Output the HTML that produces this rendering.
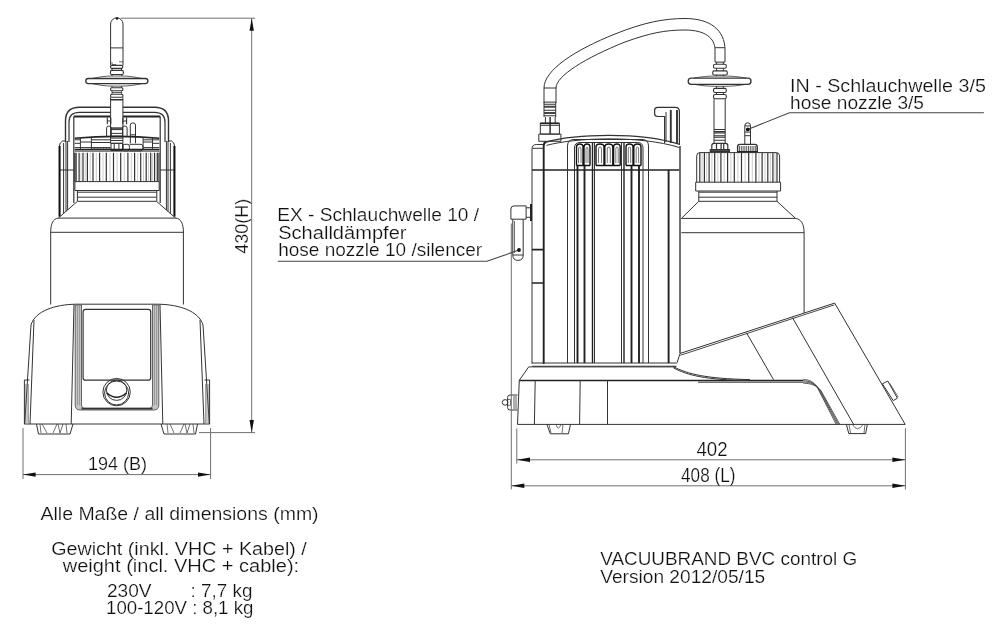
<!DOCTYPE html>
<html><head><meta charset="utf-8"><style>
html,body{margin:0;padding:0;background:#fff;}
svg{display:block;will-change:transform;}
text{font-family:"Liberation Sans",sans-serif;fill:#111;}
</style></head><body>
<svg width="1000" height="631" viewBox="0 0 1000 631">
<rect width="1000" height="631" fill="#fff"/>

<!-- ================= LEFT VIEW ================= -->
<g id="lv" fill="none" stroke="#333" stroke-width="1" stroke-linejoin="round">
  <!-- nozzle -->
  <path d="M110.6,65.4 V24 A6.2,6.2 0 0 1 123,24 V65.4"/>
  <path d="M110.6,47.9H123"/>
  <path d="M112,62 V64.5 H116 M119,61.8 H123" stroke-width="0.7"/>
  <rect x="110.6" y="65.4" width="12.1" height="3" rx="1.2" stroke-width="1.1"/>
  <path d="M112,68.4 V70.4 M121.5,68.4 V70.4"/>
  <rect x="110.4" y="70.4" width="13" height="4.1" rx="1.5" stroke-width="1.1"/>
  <path d="M112,74.5 V76 M121.8,74.5 V76"/>
  <!-- disc -->
  <path d="M92,78.5 C100,76.8 106,76 112,76 H121.6 C128,76 134,76.8 142,78.5 M92,83.6 C100,85.3 106,86.1 112,86.1 H121.6 C128,86.1 134,85.3 142,83.6" stroke-width="0.8"/>
  <rect x="85.8" y="78.5" width="62.1" height="5.1" rx="2.5" stroke-width="1.3"/>
  <!-- stem -->
  <path d="M112,86.1 V87.7 M121.6,86.1 V87.7"/>
  <rect x="110.6" y="87.7" width="12.3" height="3" rx="1.2" stroke-width="1.1"/>
  <path d="M112,90.7 V94.3 M121.6,90.7 V94.3 M112,92.5 H121.6" stroke-width="0.8"/>
  <rect x="110.6" y="94.3" width="12.3" height="3" rx="1.2" stroke-width="1.1"/>
  <path d="M110.6,97.3 V100 M122.9,97.3 V100 M110.6,99.5 H122.9"/>
    <!-- handle -->
  <path d="M65.5,142 V121 Q65.5,107.3 79.5,107.3 H154.5 Q168.5,107.3 168.5,121 V142" stroke-width="1.4"/>
  <path d="M69,142 V122 Q69,112.3 79.5,112.3 H154.5 Q165,112.3 165,122 V142" stroke-width="1.2"/>
  <path d="M73.8,116.5 H110.6 M122.9,116.5 H160.2" stroke-width="2" stroke="#222"/>
  <path d="M73.8,116.5 V203 M160.2,116.5 V203" stroke-width="1.2"/>
  <rect x="110.6" y="100" width="12.3" height="28.1" fill="#fff"/>
  <!-- side plates -->
  <path d="M59.4,216.5 V146 Q59.6,142.5 62.5,141 H65.5 M63.6,143 V213.5 M66,141 V211.5 M67.6,141 V210 M59.5,170 H73.8" />
  <path d="M174.6,216.5 V146 Q174.4,142.5 171.5,141 H168.5 M170.4,143 V213.5 M168,141 V211.5 M166.4,141 V210 M174.5,170 H160.2" />
  <path d="M59.6,146 V216.5 M174.4,146 V216.5" stroke-width="2" stroke="#111"/>
  <!-- cap fittings -->
  <path d="M107.3,117.5 V124.3 M110.8,117.5 V124.3 M122.9,117.5 V124.3 M126.6,117.5 V124.3 M107.3,121H110.8 M122.9,121H126.6" stroke-width="1.1"/>
  <path d="M106.6,137 V128 Q106.6,126 109,126 Q111.3,126 111.3,128 V137 M122.5,137 V128 Q122.5,126 124.8,126 Q127.1,126 127.1,128 V137"/>
  <path d="M130.3,143.3 V125 Q130.3,122.9 132.9,122.9 Q135.5,122.9 135.5,125 V143.3 M130.3,134.8H135.5"/>
  <path d="M110.6,128.1 H122.9 V143.3 H110.6 Z M110.6,129.6H122.9 M110.6,133.4H122.9 M110.6,136.2H122.9 M110.6,138.1H122.9 M110.6,140.5H122.9"/>
  <path d="M111,143.3 H122.5 V150.5 H111 Z M114.2,143.3 V150.5 M118.9,143.3 V150.5"/>
  <path d="M123.2,144.3 H128 Q129.5,144.3 129.5,147.6 Q129.5,150.9 128,150.9 H123.2 Z M129.5,144.3 H141 Q143.1,144.3 143.1,147.6 Q143.1,150.9 141,150.9 H129.5"/>
  <!-- lid -->
  <path d="M74.7,138.2 Q117,134.6 159.3,138.2" stroke-width="1.6" stroke="#222"/>
  <path d="M74.7,139.8 H80.4 M91.4,139.8 H110.6 M143.1,139.8 H159.3 M74.7,143.3 H80.4 M152.5,143.3 H159.3 M80.4,142 H91.4 M91.4,142.5 H110.6 M143.1,142 H152.5"/>
  <path d="M74.7,147.6 H110.6 M143.1,147.6 H159.3"/>
  <path d="M74.7,149.5 H159.3" stroke-width="1.6" stroke="#222"/>
  <path d="M74.7,151.1 H159.3"/>
  <path d="M80.4,138 V149.5 M91.4,137.5 V149.5 M143.1,137.5 V149.5 M152.5,138 V149.5"/>
  <path d="M93,147V149.5M94.5,147V149.5M96,147V149.5M97.5,147V149.5M99,147V149.5M100.5,147V149.5M102,147V149.5M103.5,147V149.5M105,147V149.5M106.5,147V149.5M108,147V149.5M109.5,147V149.5" stroke-width="0.7"/>
  <!-- ribbed cap -->
  <path d="M74.7,152.8 V181.6 M159,152.8 V181.6"/>
  <path d="M79.1,152.8V181.6M83,152.8V181.6M87.4,152.8V181.6M93,152.8V181.6M99.6,152.8V181.6M106.3,152.8V181.6M113.5,152.8V181.6M120.7,152.8V181.6M127.9,152.8V181.6M134.6,152.8V181.6M140.7,152.8V181.6M146.2,152.8V181.6M150.7,152.8V181.6M154.6,152.8V181.6" stroke-width="1.2"/>
  <path d="M81,153V181M85.2,153V181M90.2,153V181M96.3,153V181M103,153V181M110,153V181M117.1,153V181M124.3,153V181M131.3,153V181M137.7,153V181M143.5,153V181M148.5,153V181M152.7,153V181M156.8,153V181" stroke-width="0.5" stroke="#999"/>
  <path d="M76,152.8 V181.6 M157.6,152.8 V181.6" stroke-width="1.6" stroke="#444"/>
  <!-- band + neck -->
  <rect x="74.9" y="181.6" width="84.3" height="8.9"/>
  <path d="M77.4,190.5 V201 M156.8,190.5 V201 M77.4,192.2 H156.8 M77.4,197.2 H156.8"/>
  <!-- shoulder -->
  <path d="M77.5,201.3 L58.3,218.1 M156.5,201.3 L175.7,218.1 M77.4,201.3 H156.8 M58.3,218.1 H175.7"/>
  <path d="M58.3,218.1 C53,218.6 50.7,224 50.7,232 V304.5 M175.7,218.1 C181,218.6 183.4,224 183.4,232 V304.5 M50.7,232.3 H183.4"/>
  <!-- base -->
  <path d="M75.9,304.2 H158.1"/>
  <path d="M75.9,304.2 C55,304.5 35,311 31,325 L24.7,424 M158.1,304.2 C179,304.5 199,311 203,325 L209.3,424"/>
  <path d="M34,320 L30,424 M200,320 L204,424"/>
  <path d="M24.4,424 V380 H29.5 M209.6,424 V380 H204.5"/>
  <path d="M25.8,384V423M27.2,384V423M28.5,384V423 M208.2,384V423M206.8,384V423M205.5,384V423" stroke-width="0.6" stroke="#666"/>
  <path d="M24.2,424 H209.8"/>
  <path d="M74,304.5 L71.2,424 M160,304.5 L162.8,424"/>
  <path d="M75.2,305 V405 Q75.2,410 80.2,410 H153.8 Q158.8,410 158.8,405 V305 H152.5 V405 Q152.5,408.3 149.5,408.3 H84.5 Q81.5,408.3 81.5,405 V305 Z" fill="#c4c4c4" stroke="#555" stroke-width="0.9"/>
  <path d="M77.5,306 V405 M79.5,306 V405 M156.5,306 V405 M154.5,306 V405" stroke-width="0.7" stroke="#888"/>
  <path d="M81.5,408.6 H152.5" stroke-width="1.6" stroke="#333"/>
  <rect x="83.1" y="309.3" width="67.6" height="70.9" rx="2.5" stroke-width="1.2"/>
  <circle cx="116.6" cy="392.1" r="13.7"/>
  <circle cx="116.6" cy="393" r="12"/>
  <circle cx="116.6" cy="390.2" r="10.2"/>
  <path d="M106.8,393 Q116.6,401.5 126.4,393" stroke-width="1.6" stroke="#222"/>
  <!-- feet -->
  <path d="M36.5,424 L38.5,434 H70 L73,424"/>
  <path d="M40,424 L41,433 M42,424 L47,433 M57,424 L53,433 M58,424 L60,433 M63,424 L60,433 M66,424 L67,433" stroke-width="0.7"/>
  <path d="M161,424 L164,434 H195.5 L197.5,424"/>
  <path d="M167,424 L168,433 M170,424 L174,433 M184,424 L180,433 M185,424 L187,433 M190,424 L187,433 M193,424 L194,433" stroke-width="0.7"/>
</g>

<!-- left dims -->
<g fill="none" stroke="#707070" stroke-width="1">
  <path d="M23,428 V479 M210.6,428 V479 M23,474.6 H210.6"/>
  <path d="M120.8,18.2 H255 M199,432.6 H255 M251.7,18.2 V432.6"/>
</g>
<g fill="#111" stroke="none">
  <path d="M23,474.6 L35.6,472.4 L35.6,476.8 Z"/>
  <path d="M210.6,474.6 L198,472.4 L198,476.8 Z"/>
  <path d="M251.7,18.2 L249.5,30.8 L253.9,30.8 Z"/>
  <path d="M251.7,432.6 L249.5,420 L253.9,420 Z"/>
  <circle cx="117" cy="18.5" r="1.2"/>
</g>

<!-- ================= RIGHT VIEW ================= -->
<g id="rv" fill="none" stroke="#333" stroke-width="1" stroke-linejoin="round">
  <!-- hose -->
  <path d="M544,103 V88 C544,70 575,50 615,34 C645,22 665,18.5 685,18.5 C710,18.5 725,30 725,50 V62"/>
  <path d="M556,103 V88 C556,76 585,58 625,42 C650,33 665,30 685,30 C705,30 715,38 715,50 V62"/>
  <path d="M544,88 H556 M715,47.7 H725 M715,62.1 H725"/>
  <!-- left fitting -->
  <path d="M544,102.1 V117 M555.7,102.1 V117 M544,102.1 H555.7"/>
  <path d="M544,104.2 H555.7 M544,110.2 H555.7 M544,115.8 H555.7" stroke-width="1.1"/>
  <path d="M544,106.8 H555.7 M544,113 H555.7" stroke-width="2" stroke="#444"/>
  <path d="M545.4,117 V123.3 M555.2,117 V123.3"/>
  <path d="M550.1,117 V134.1" stroke-width="1.4" stroke="#222"/>
  <path d="M540.3,123.3 H559.4 V134.1 H540.3 Z M540.3,125.3 H559.4" />
  <path d="M540.3,123.3 H559.4" stroke-width="1.6" stroke="#222"/>
  <path d="M538.8,134.1 H560.9 V141.3 H538.8 Z"/>
  <!-- right tube + filter -->
  <path d="M716.6,62.1 V64.2 M723.3,62.1 V64.2 M716.6,68.3 V70.9 M723.3,68.3 V70.9 M716.6,75 V76.2 M723.3,75 V76.2"/>
  <rect x="713.5" y="64.2" width="12.8" height="4.1" rx="1.6" stroke-width="1.1"/>
  <rect x="712.7" y="70.9" width="14.6" height="4.1" rx="1.6" stroke-width="1.1"/>
  <path d="M694,78.1 C702,76.6 709,76 716,76 H724 C731,76 738,76.6 746,78.1 M694,84.3 C702,85.8 709,86.3 716,86.3 H724 C731,86.3 738,85.8 746,84.3" stroke-width="0.8"/>
  <rect x="688.2" y="78.1" width="62.8" height="6.2" rx="3.1" stroke-width="1.3"/>
  <path d="M716.6,86.3 V88.4 M723.3,86.3 V88.4 M716.6,92.5 V94.5 M723.3,92.5 V94.5 M716.6,98.8 V99.1 M723.3,98.8 V99.1"/>
  <rect x="713.5" y="88.4" width="12.8" height="4.1" rx="1.6" stroke-width="1.1"/>
  <rect x="713.5" y="94.5" width="12.8" height="4.3" rx="1.6" stroke-width="1.1"/>
  <path d="M714,99.1 V143.4 M725.2,99.1 V143.4"/>
  <path d="M714,129.5 H725.2 M714,131.6 H725.2 M714,133 H725.2 M714,135.7 H725.2 M714,137.2 H725.2 M714,140.3 H725.2" stroke-width="1.1"/>
  <path d="M711.8,149.6 V145.6 Q711.8,143.4 714,143.4 H725.6 Q727.8,143.4 727.8,145.6 V149.6 M716.5,143.4 V149.6 M721.1,143.4 V149.6 M723.7,143.4 V149.6" stroke-width="1.2"/>
  <path d="M710.3,149.6 H729.4 V151.6 H710.3 Z" stroke-width="1.2" fill="#555"/>
  <!-- IN nozzle -->
  <path d="M744.8,144.4 V125.6 Q744.8,122.8 747.65,122.8 Q750.5,122.8 750.5,125.6 V144.4"/>
  <path d="M744.8,125.9 H750.5 M744.8,132.1 H750.5 M744.8,135.7 H750.5"/>
  <path d="M737.6,151.6 V146.6 Q737.6,144.4 740,144.4 H754.8 Q757.2,144.4 757.2,146.6 V151.6" stroke-width="1.4"/>
  <path d="M739.5,146V151.8M741.3,146V151.8M743.1,146V151.8M744.9,146V151.8M746.7,146V151.8M748.5,146V151.8M750.3,146V151.8M752.1,146V151.8M753.9,146V151.8M755.7,146V151.8" stroke-width="0.8"/>
  <path d="M737,151.8 H758" stroke-width="1.6" stroke="#222"/>
  <!-- handle hook -->
  <path d="M664.6,143 V116.5 H657.6 Q654.6,116.5 654.6,113.5 V110.5 Q654.6,107.4 657.6,107.4 H675.5 Q679.4,107.4 679.4,111.5 V144.5" stroke-width="1.2"/>
  <path d="M666,112 V142"/>
  <path d="M670.8,110 V143 M677,110 V144" stroke-width="1.9" stroke="#333"/>
  <!-- pump body -->
  <path d="M532,363.8 V149 Q532,144.5 536.5,144.5 H543.5"/>
  <path d="M546.5,142 C575,134 640,131.5 680,144.5" stroke-width="1.3"/>
  <path d="M680,353.5 L677.2,362.5"/>
  <path d="M546.5,145.4 C575,137.6 640,135 679.5,147.6"/>
  <path d="M543.7,364 V146 Q543.7,142.2 546.5,142" stroke-width="1.9" stroke="#222"/>
  <path d="M532.5,148.3 H543.7"/>
  <path d="M532,170 H679.4" stroke-width="1.5" stroke="#222"/>
  <path d="M532,249.6 H543.5 M532,283 H543.5" stroke-width="1.7" stroke="#222"/>
  <path d="M532,363 H677.2 M532,366.2 H676.5" stroke-width="1.1"/>
  <!-- grille -->
  <path d="M567.5,363 V146 Q567.5,139.5 574,139.5 H642 Q648.5,139.5 648.5,146 V363"/>
  <path d="M574.5,363 V148 Q574.5,142.5 580,142.5 H637.5 Q643,142.5 643,148 V363"/>
  <path d="M577.5,363 V165.5 M584.5,363 V165.5 M631.5,363 V165.5 M639,363 V165.5 M668.6,363 V170" stroke-width="1.9" stroke="#222"/>
  <path d="M680,146 V353" stroke-width="1.4"/>
  <path d="M592.5,363 V143 M624,363 V143" stroke-width="1.4" stroke="#222"/>
  <path d="M594.5,363 V143 M621.5,363 V143"/>
  <path d="M576.5,165.5 V147 Q576.5,144 579.7,144 Q583,144 583,147 V165.5 M584,165.5 V147 Q584,144 587,144 Q590,144 590,147 V165.5 M596,165.5 V147 Q596,144 600,144 Q604,144 604,147 V165.5 M604.8,165.5 V147 Q604.8,144 608.8,144 Q612.8,144 612.8,147 V165.5 M613.6,165.5 V147 Q613.6,144 616.9,144 Q620.2,144 620.2,147 V165.5 M626,165.5 V147 Q626,144 629.5,144 Q633,144 633,147 V165.5 M633.8,165.5 V147 Q633.8,144 637.4,144 Q641,144 641,147 V165.5" stroke-width="1.4" stroke="#111"/>
  <path d="M578.5,163 V149 Q578.5,147 579.7,147 Q581,147 581,149 V163 M586,163 V149 Q586,147 587,147 Q588,147 588,149 V163 M598.5,163 V149 Q598.5,147 600,147 Q601.5,147 601.5,149 V163 M607.3,163 V149 Q607.3,147 608.8,147 Q610.3,147 610.3,149 V163 M615.8,163 V149 Q615.8,147 617,147 Q618.2,147 618.2,149 V163 M628.3,163 V149 Q628.3,147 629.5,147 Q630.7,147 630.7,149 V163 M636.2,163 V149 Q636.2,147 637.4,147 Q638.6,147 638.6,149 V163" stroke-width="0.8" stroke="#555"/>
  <path d="M576.5,165.5 H590 M596,165.5 H620.2 M626,165.5 H641" stroke-width="1.4" stroke="#111"/>
  <!-- silencer -->
  <path d="M512.8,219.2 H510.9 V209 Q510.9,205.9 514,205.9 H526.1 V219.2 H523.2"/>
  <path d="M526.1,207.8 H530.5 V217.3 H526.1"/>
  <path d="M531,204 V221" stroke-width="2" stroke="#222"/>
  <path d="M512.8,219.2 V255 Q512.8,260.4 518,260.4 Q523.2,260.4 523.2,255 V219.2 M512.8,219.2 H523.2 M512.8,255 H523.2"/>
  <path d="M514.5,221 V253" stroke-width="0.7"/>
  <!-- base -->
  <path d="M528.7,366.9 H676"/>
  <path d="M528.7,366.9 L519.3,380.3 L517.5,424.4"/>
  <path d="M519.3,380.5 H803.2" stroke-width="1.4" stroke="#222"/>
  <path d="M698,382.2 H803.2"/>
  <path d="M673.5,366.8 C688,374 705,378.6 750,379.6 M673.5,367.9 C687,375 705,380 750,380.6"/>
  <path d="M535.2,380.3 L534.4,424.4 M580.2,380.3 L579.6,424.4 M607.5,380.3 V424.4"/>
  <path d="M517.5,424.4 H905.2"/>
  <path d="M803.2,379.6 C810,379.6 814,382 817.6,388 L836.2,424.4 M803.2,380.8 C810,380.8 815,383.2 818.8,389 L837.4,424.4 M803.2,382 C810.5,382 816,384.4 820,390 L838.6,424.4 M803.2,383.2 C811,383.2 817,385.6 821.2,391 L839.8,424.4" stroke-width="0.8"/>
  <!-- knob -->
  <path d="M517.5,395 H510 Q507.6,395 507.6,397.4 V407.6 Q507.6,410 510,410 H517.5"/>
  <path d="M514,396 V409 M516,396 V409" stroke-width="0.8"/>
  <circle cx="505.1" cy="402.4" r="2.8"/>
  <path d="M507.6,399.5 H510.5 V405.3 H507.6" stroke-width="0.7"/>
  <!-- feet -->
  <path d="M546.9,424.4 L550.3,433.8 H568.4 L570.5,424.4"/>
  <path d="M549,424.4 L551,433 M556,424.4 Q558,432 561,424.4 M563,424.4 L562,433" stroke-width="0.7"/>
  <path d="M846.4,424.4 L848.8,433.6 H865.6 L867.4,424.4"/>
  <path d="M849,424.4 L850.5,433 M852.4,424.4 Q857.2,433 863.2,424.4 M865,424.4 L864,433" stroke-width="0.7"/>
  <!-- ramp -->
  <path d="M679.9,353.5 L834.7,303.1 L905.2,424.4"/>
  <path d="M680.3,355.3 L834.3,304.9" stroke-width="0.9"/>
  <path d="M746.5,332.8 L773.5,379.6 M792.4,317.5 L853.6,424.4"/>
  <path d="M882.4,383.8 L887.8,381 L897.4,398.2 L893.2,400.6 Z"/>
  <path d="M889.5,383 L898.2,397" stroke-width="0.7"/>
  <!-- bottle -->
  <path d="M696.7,182.2 V156 Q696.7,152.6 700,152.6 H776.3 Q779.6,152.6 779.6,156 V182.2"/>
  <path d="M699.8,152.8V182.2M704.4,152.8V182.2M709.1,152.8V182.2M714.7,152.8V182.2M720.9,152.8V182.2M727.6,152.8V182.2M734.3,152.8V182.2M741.5,152.8V182.2M748.7,152.8V182.2M755.9,152.8V182.2M762.1,152.8V182.2M767.8,152.8V182.2M772.9,152.8V182.2M777,152.8V182.2" stroke-width="1.2"/>
  <path d="M702.1,153V182M706.7,153V182M711.9,153V182M717.8,153V182M724.2,153V182M730.9,153V182M737.9,153V182M745.1,153V182M752.3,153V182M759,153V182M765,153V182M770.3,153V182M775,153V182" stroke-width="0.5" stroke="#999"/>
  <rect x="695.7" y="182.2" width="84.9" height="8.8"/>
  <path d="M698.8,191 V201.3 M777,191 V201.3 M698.8,192.2 H777 M698.8,197.2 H777"/>
  <path d="M698.8,201.3 L681.4,218.4 M777,201.3 L795.5,218.4 M698.8,201.3 H777 M681.4,218.4 H795.5"/>
  <path d="M795.5,218.4 C801,219 804.1,224 804.1,232.7 V313 M681.4,232.7 H804.1"/>
</g>

<!-- right dims -->
<g fill="none" stroke="#707070" stroke-width="1">
  <path d="M516.8,428.4 V463.6 M511.3,223.5 V489.4 M905.4,428.2 V489.6 M517,459.8 H905.4 M511.3,485.8 H905.4"/>
</g>
<g fill="#111" stroke="none">
  <path d="M517,459.8 L530,457.5 L530,462.1 Z"/>
  <path d="M905.4,459.8 L892.4,457.5 L892.4,462.1 Z"/>
  <path d="M511.3,485.8 L524.3,483.5 L524.3,488.1 Z"/>
  <path d="M905.4,485.8 L892.4,483.5 L892.4,488.1 Z"/>
</g>

<!-- leaders -->
<g fill="none" stroke="#444" stroke-width="1.1">
  <path d="M983.9,112.8 H789.4 L747.8,129.4"/>
  <path d="M277.8,261.3 H487 L519,250.1"/>
</g>
<circle cx="747.8" cy="129.4" r="1.9" fill="#111"/>
<circle cx="519" cy="250" r="1.9" fill="#111"/>

<!-- texts -->
<g font-size="19.2" stroke="#fff" stroke-width="0.22">
<text x="88" y="470.4" textLength="59" lengthAdjust="spacingAndGlyphs">194 (B)</text>
<text transform="translate(247.8,253.8) rotate(-90)" textLength="55" lengthAdjust="spacingAndGlyphs">430(H)</text>
<text x="696.4" y="456" font-size="19.6" textLength="31.2" lengthAdjust="spacingAndGlyphs">402</text>
<text x="681.1" y="482.3" font-size="19.6" textLength="54.3" lengthAdjust="spacingAndGlyphs">408 (L)</text>
<text x="790" y="91.7" textLength="195.9" lengthAdjust="spacingAndGlyphs">IN - Schlauchwelle 3/5</text>
<text x="790" y="108.9" textLength="134" lengthAdjust="spacingAndGlyphs">hose nozzle 3/5</text>
<text x="277.2" y="221.3" textLength="201.9" lengthAdjust="spacingAndGlyphs">EX - Schlauchwelle 10 /</text>
<text x="278.2" y="238.7" textLength="128.3" lengthAdjust="spacingAndGlyphs">Schalldämpfer</text>
<text x="278.2" y="256.1" textLength="204" lengthAdjust="spacingAndGlyphs">hose nozzle 10 /silencer</text>
<text x="40.5" y="520" textLength="278.1" lengthAdjust="spacingAndGlyphs">Alle Maße / all dimensions (mm)</text>
<text x="51.2" y="554.8" textLength="255.6" lengthAdjust="spacingAndGlyphs">Gewicht (inkl. VHC + Kabel) /</text>
<text x="62.7" y="571.6" textLength="236.5" lengthAdjust="spacingAndGlyphs">weight (incl. VHC + cable):</text>
<text x="107" y="597.3" textLength="44.6" lengthAdjust="spacingAndGlyphs">230V</text>
<text x="190.6" y="597.3" textLength="61.8" lengthAdjust="spacingAndGlyphs">: 7,7 kg</text>
<text x="106" y="614.3" textLength="147.4" lengthAdjust="spacingAndGlyphs">100-120V : 8,1 kg</text>
<text x="600.2" y="565.2" textLength="257" lengthAdjust="spacingAndGlyphs">VACUUBRAND BVC control G</text>
<text x="600.2" y="582.6" textLength="165" lengthAdjust="spacingAndGlyphs">Version 2012/05/15</text>
</g>
</svg>
</body></html>
